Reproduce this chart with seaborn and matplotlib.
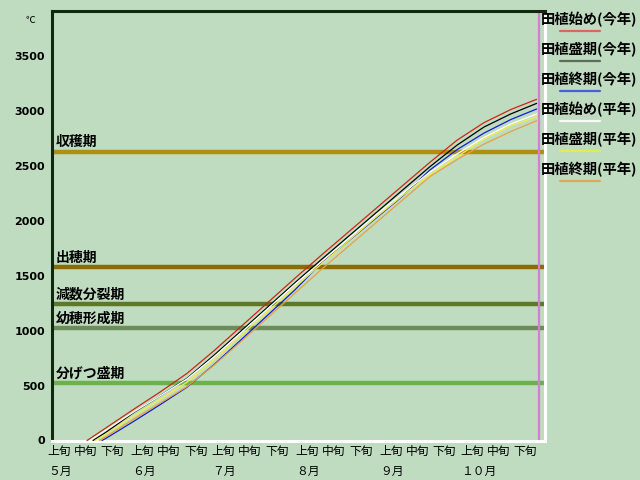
import matplotlib
matplotlib.use('Agg')
import matplotlib.pyplot as plt
import matplotlib.transforms as mtransforms
from matplotlib.lines import Line2D
import seaborn as sns
import pandas as pd

# dias desde 1 de maio
dias = [20, 30, 40, 50, 60, 70, 80, 90, 100, 110, 120, 130, 140, 150, 160, 170, 179.5]

series = ['田植始め(今年)', '田植盛期(今年)', '田植終期(今年)',
          '田植始め(平年)', '田植盛期(平年)', '田植終期(平年)']
inicio = [13, 15.2, 18.5, 14, 16, 17.5]

hajime_kotoshi = [115, 280, 440, 610, 816, 1036, 1256, 1476, 1690, 1900, 2110, 2320, 2530, 2730, 2890, 3010, 3102]
seiki_kotoshi = [75, 250, 405, 565, 775, 995, 1215, 1435, 1650, 1860, 2070, 2280, 2490, 2685, 2850, 2970, 3065]
shuki_kotoshi = [20, 170, 325, 485, 690, 915, 1142, 1370, 1620, 1818, 2022, 2225, 2460, 2644, 2795, 2919, 3014]
hajime_heinen = [95, 255, 405, 560, 760, 980, 1200, 1420, 1630, 1840, 2050, 2250, 2440, 2605, 2755, 2879, 2968]
seiki_heinen = [60, 220, 375, 530, 735, 955, 1175, 1395, 1610, 1820, 2030, 2230, 2420, 2580, 2740, 2865, 2944]
shuki_heinen = [35, 190, 340, 490, 685, 900, 1120, 1340, 1560, 1770, 1980, 2190, 2400, 2554, 2695, 2810, 2907]
valores = [hajime_kotoshi, seiki_kotoshi, shuki_kotoshi, hajime_heinen, seiki_heinen, shuki_heinen]

# estagios (graus-dia)
estagios = ['収穫期', '出穂期', '減数分裂期', '幼穂形成期', '分げつ盛期']
estagio_valor = [2625, 1573, 1238, 1021, 523]

meses = ['５月', '６月', '７月', '８月', '９月', '１０月']
mes_inicio = [0, 31, 61, 92, 123, 153]
junpo = ['上旬', '中旬', '下旬']
dia_hoje = 180.4

cores = ['#c82818', '#000000', '#1020d0', '#ffffff', '#f0f048', '#e8a040']
cores_legenda = ['#e0645a', '#5a6e5a', '#4462d8', '#f8f8f8', '#e8e850', '#e0a850']
cores_estagio = ['#b08e10', '#8c6c00', '#5c7828', '#6e8c5a', '#6cb050']

# montar dataframe longo
linhas = []
for nome, d0, vals in zip(series, inicio, valores):
    linhas.append({'serie': nome, 'dia': d0, 'valor': 0})
    for d, v in zip(dias, vals):
        if d > d0:
            linhas.append({'serie': nome, 'dia': d, 'valor': v})
df = pd.DataFrame(linhas)

sns.set_style('white')
plt.rcParams['font.family'] = ['Noto Sans CJK JP', 'DejaVu Sans']
plt.rcParams['text.color'] = 'black'
plt.rcParams['xtick.color'] = 'black'
plt.rcParams['ytick.color'] = 'black'

fundo = '#c0dcc0'
fig, ax = plt.subplots(figsize=(6.4, 4.8), dpi=100)
fig.patch.set_facecolor(fundo)
ax.set_facecolor(fundo)
fig.subplots_adjust(left=52 / 640, right=545 / 640, bottom=39.5 / 480, top=469 / 480)

# linhas dos estagios
for nome, v, c in zip(estagios, estagio_valor, cores_estagio):
    ax.axhline(v, color=c, lw=3.2, zorder=1)
    ax.text(1.5, v + 86, nome, fontsize=10, fontweight='bold', va='center', ha='left', zorder=4)

sns.lineplot(data=df, x='dia', y='valor', hue='serie', hue_order=series,
             palette=dict(zip(series, cores)), estimator=None, sort=False,
             lw=0.9, legend=False, ax=ax, zorder=3)

ax.axvline(dia_hoje, color='#d080d0', lw=1.6, zorder=2)

ax.set_xlim(0, 182.6)
ax.set_ylim(0, 3905)
ax.set_xlabel('')
ax.set_ylabel('')

ax.set_yticks(range(0, 4000, 500))
ax.set_yticklabels([str(v) for v in range(0, 4000, 500)], fontsize=8, fontweight='bold',
                   family='DejaVu Sans')

pos = []
rot = []
for s in mes_inicio:
    for off, j in zip([2.5, 12.3, 22.4], junpo):
        pos.append(s + off)
        rot.append(j)
ax.set_xticks(pos)
ax.set_xticklabels(rot, fontsize=8.5)
ax.tick_params(axis='both', length=0)
ax.tick_params(axis='y', pad=5)
ax.tick_params(axis='x', pad=3)

trans = mtransforms.blended_transform_factory(ax.transData, fig.transFigure)
for m, s in zip(meses, mes_inicio):
    ax.text(s - 1.5, 1 - 471 / 480, m, transform=trans, fontsize=8.5, ha='left', va='center')

fig.text(30 / 640, 1 - 20 / 480, '℃', fontsize=7, ha='center', va='center')

# bordas
for lado in ['left', 'top']:
    ax.spines[lado].set_color('#102810')
    ax.spines[lado].set_linewidth(2.2)
for lado in ['right', 'bottom']:
    ax.spines[lado].set_color('#ffffff')
    ax.spines[lado].set_linewidth(2.2)

# legenda manual
for i, (nome, c) in enumerate(zip(series, cores_legenda)):
    y = 1 - (20 + 30 * i) / 480
    fig.text(541 / 640, y, nome, fontsize=10.3, fontweight='bold', ha='left', va='center')
    yl = 1 - (31 + 30 * i) / 480
    fig.add_artist(Line2D([560 / 640, 600 / 640], [yl, yl], transform=fig.transFigure,
                          color=c, lw=1.6))

plt.savefig('out.png', dpi=100, facecolor=fundo)
plt.close()
